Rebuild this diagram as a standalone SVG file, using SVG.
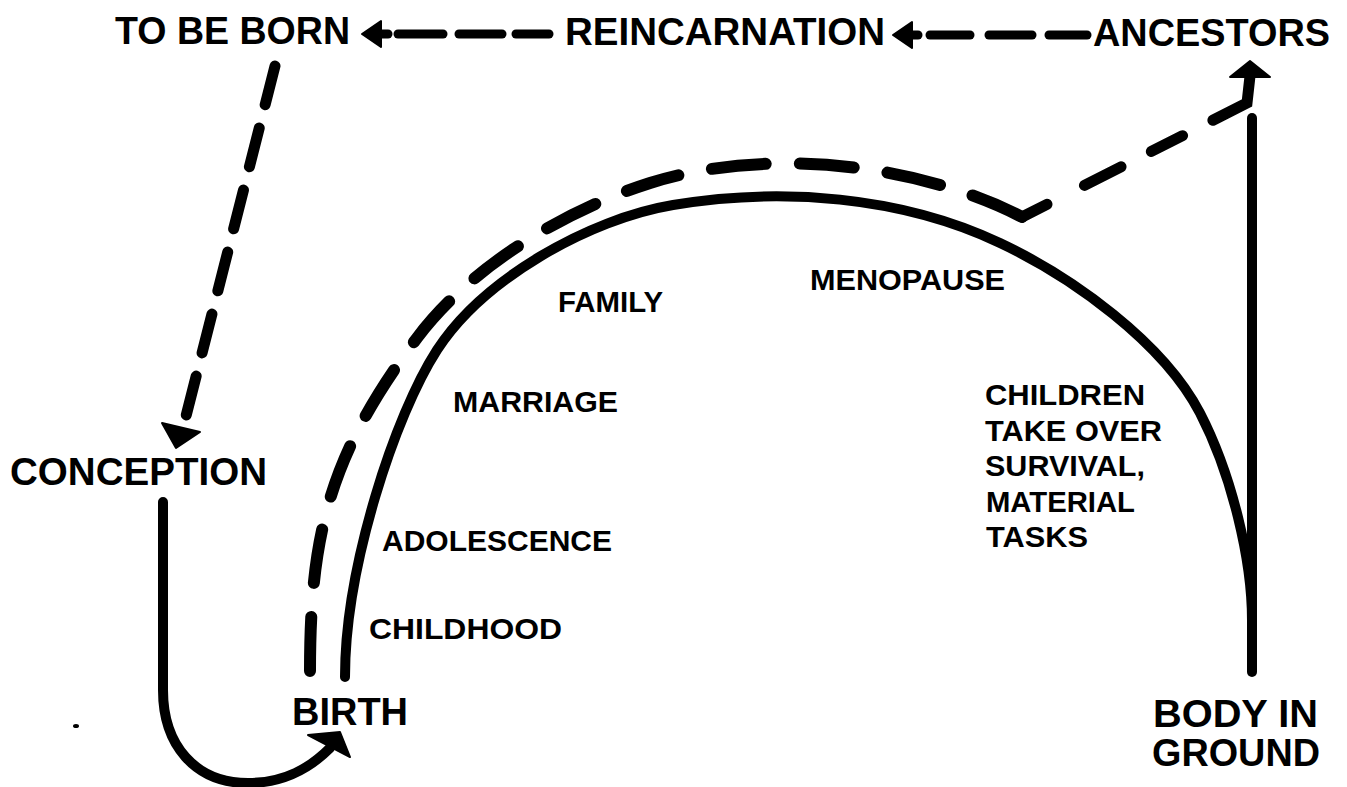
<svg xmlns="http://www.w3.org/2000/svg" width="1347" height="787" viewBox="0 0 1347 787">
  <style>
    .big { font-family: "Liberation Sans", Arial, sans-serif; font-weight: bold; font-size: 39px; fill: #000; }
    .small { font-family: "Liberation Sans", Arial, sans-serif; font-weight: bold; font-size: 30px; fill: #000; }
    .solid { fill: none; stroke: #000; stroke-width: 10; stroke-linecap: round; stroke-linejoin: round; }
    .dash-arc { fill: none; stroke: #000; stroke-width: 12; stroke-linecap: round; stroke-linejoin: round; stroke-dasharray: 57 36; }
    .dash-rise { fill: none; stroke: #000; stroke-width: 11; stroke-linecap: round; stroke-linejoin: miter; stroke-dasharray: 28 42 41 34 35 34 200; }
    .dash-diag { fill: none; stroke: #000; stroke-width: 11; stroke-linecap: round; stroke-dasharray: 40 24; }
    .dash-top { fill: none; stroke: #000; stroke-width: 9; stroke-linecap: round; }
    .head { fill: #000; stroke: #000; stroke-width: 2; stroke-linejoin: round; }
  </style>
  <rect width="1347" height="787" fill="#fff"/>

  <!-- connectors -->
  <g id="connectors">
    <!-- life arch: birth to body in ground -->
    <path class="solid" d="M345,677 C345,567 395,415 437,350 C483,279 589,219 673,205 C781,187 901,196 1000,243 C1072,277 1163,342 1200,413 C1232,475 1252,560 1252,620"/>
    <!-- body in ground rising to ancestors -->
    <path class="solid" d="M1252,672 L1252,118"/>

    <!-- dashed path of the spirit along the arch, dipping at menopause -->
    <path class="dash-arc" pathLength="1080" d="M310,671 C310,533 330,454 417,338 C471,266 565,210 650,183 C764,147 915,162 1022,217"/>
    <path class="dash-rise" d="M1022,217 L1247,103 L1250,76"/>
    <polygon class="head" points="1250,61 1230,77 1270,77"/>

    <!-- ancestors to reincarnation -->
    <line class="dash-top" x1="912" y1="35" x2="918" y2="35"/>
    <line class="dash-top" x1="930" y1="35" x2="970" y2="35"/>
    <line class="dash-top" x1="989" y1="35" x2="1032" y2="35"/>
    <line class="dash-top" x1="1049" y1="35" x2="1087" y2="35"/>
    <polygon class="head" points="893,35 912,22 912,48"/>

    <!-- reincarnation to be born -->
    <line class="dash-top" x1="381" y1="34" x2="388" y2="34"/>
    <line class="dash-top" x1="398" y1="34" x2="443" y2="34"/>
    <line class="dash-top" x1="459" y1="34" x2="502" y2="34"/>
    <line class="dash-top" x1="516" y1="34" x2="549" y2="34"/>
    <polygon class="head" points="362,34 381,21 381,47"/>

    <!-- to be born down to conception -->
    <path class="dash-diag" d="M275,66 L184,424"/>
    <polygon class="head" points="162,423 200,432 176,448"/>

    <!-- conception around to birth -->
    <path class="solid" d="M163,502 L163,690 C163,745 195,783 248,783 C285,783 310,768 330,748"/>
    <polygon class="head" points="308,735 340,732 350,757"/>

    <!-- small ink speck -->
    <ellipse cx="76" cy="726" rx="3" ry="2" fill="#000"/>
  </g>

  <!-- nodes -->
  <g id="node-to-be-born"><text class="big" x="115" y="44" textLength="235" lengthAdjust="spacingAndGlyphs">TO BE BORN</text></g>
  <g id="node-reincarnation"><text class="big" x="565" y="45" textLength="320" lengthAdjust="spacingAndGlyphs">REINCARNATION</text></g>
  <g id="node-ancestors"><text class="big" x="1093" y="46" textLength="237" lengthAdjust="spacingAndGlyphs">ANCESTORS</text></g>
  <g id="node-conception"><text class="big" x="10" y="485" textLength="257" lengthAdjust="spacingAndGlyphs">CONCEPTION</text></g>
  <g id="node-birth"><text class="big" x="292" y="725" textLength="116" lengthAdjust="spacingAndGlyphs">BIRTH</text></g>
  <g id="node-body-in-ground">
    <text class="big" x="1153" y="727" textLength="165" lengthAdjust="spacingAndGlyphs">BODY IN</text>
    <text class="big" x="1152" y="766" textLength="168" lengthAdjust="spacingAndGlyphs">GROUND</text>
  </g>

  <!-- life stages -->
  <g id="stage-childhood"><text class="small" x="369" y="639" textLength="193" lengthAdjust="spacingAndGlyphs">CHILDHOOD</text></g>
  <g id="stage-adolescence"><text class="small" x="382" y="551" textLength="230" lengthAdjust="spacingAndGlyphs">ADOLESCENCE</text></g>
  <g id="stage-marriage"><text class="small" x="453" y="412" textLength="165" lengthAdjust="spacingAndGlyphs">MARRIAGE</text></g>
  <g id="stage-family"><text class="small" x="558" y="312" textLength="105" lengthAdjust="spacingAndGlyphs">FAMILY</text></g>
  <g id="stage-menopause"><text class="small" x="810" y="290" textLength="195" lengthAdjust="spacingAndGlyphs">MENOPAUSE</text></g>
  <g id="stage-children">
    <text class="small" x="985" y="405" textLength="160" lengthAdjust="spacingAndGlyphs">CHILDREN</text>
    <text class="small" x="985" y="441" textLength="177" lengthAdjust="spacingAndGlyphs">TAKE OVER</text>
    <text class="small" x="985" y="476" textLength="160" lengthAdjust="spacingAndGlyphs">SURVIVAL,</text>
    <text class="small" x="986" y="512" textLength="149" lengthAdjust="spacingAndGlyphs">MATERIAL</text>
    <text class="small" x="986" y="547" textLength="102" lengthAdjust="spacingAndGlyphs">TASKS</text>
  </g>
</svg>
